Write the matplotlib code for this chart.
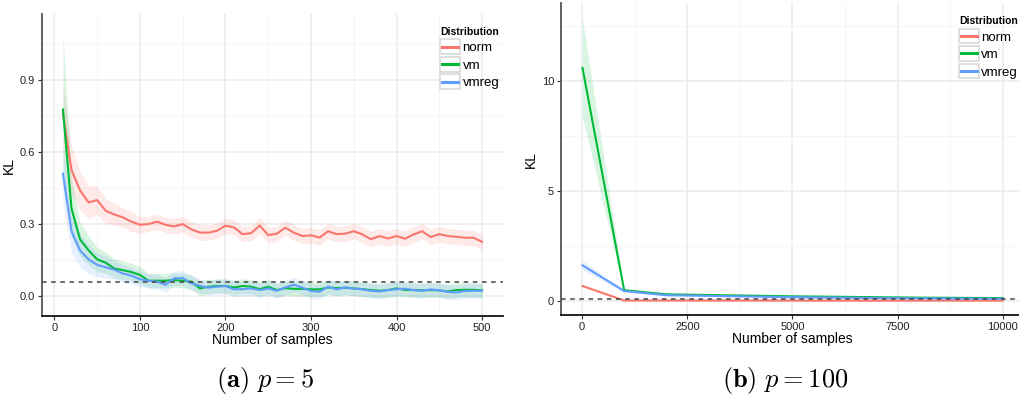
import numpy as np
import matplotlib
matplotlib.use("Agg")
import matplotlib.pyplot as plt
from matplotlib.legend_handler import HandlerBase
from matplotlib.patches import Rectangle
from matplotlib.lines import Line2D

plt.rcParams['mathtext.fontset'] = 'cm'
plt.rcParams['font.family'] = ['Liberation Sans', 'DejaVu Sans']

names = ['norm', 'vm', 'vmreg']
colors = {'norm': '#F8766D', 'vm': '#00BA38', 'vmreg': '#619CFF'}

# ---- p = 5 ----
n_a = list(range(10, 501, 10))
kl_a = {
    'norm': [0.76, 0.525, 0.44, 0.39, 0.40, 0.355, 0.34, 0.328, 0.31, 0.297,
             0.30, 0.31, 0.297, 0.29, 0.30, 0.278, 0.265, 0.264, 0.272, 0.293,
             0.286, 0.258, 0.262, 0.294, 0.254, 0.26, 0.285, 0.264, 0.25, 0.253,
             0.244, 0.27, 0.258, 0.26, 0.27, 0.257, 0.237, 0.25, 0.24, 0.25,
             0.239, 0.257, 0.27, 0.246, 0.258, 0.25, 0.247, 0.243, 0.243, 0.226],
    'vm': [0.777, 0.365, 0.236, 0.19, 0.153, 0.139, 0.115, 0.108, 0.10, 0.088,
           0.064, 0.064, 0.064, 0.067, 0.064, 0.06, 0.032, 0.039, 0.042, 0.042,
           0.036, 0.042, 0.039, 0.029, 0.039, 0.025, 0.033, 0.03, 0.03, 0.028,
           0.028, 0.036, 0.033, 0.035, 0.032, 0.029, 0.025, 0.022, 0.025, 0.032,
           0.026, 0.025, 0.024, 0.025, 0.024, 0.019, 0.025, 0.026, 0.026, 0.024],
    'vmreg': [0.51, 0.27, 0.19, 0.153, 0.13, 0.12, 0.11, 0.094, 0.085, 0.07,
              0.064, 0.06, 0.047, 0.074, 0.075, 0.053, 0.043, 0.035, 0.039, 0.042,
              0.028, 0.029, 0.032, 0.025, 0.032, 0.022, 0.036, 0.047, 0.035, 0.021,
              0.018, 0.039, 0.028, 0.036, 0.031, 0.028, 0.022, 0.019, 0.025, 0.028,
              0.031, 0.025, 0.022, 0.028, 0.024, 0.017, 0.015, 0.021, 0.022, 0.022],
}
# ribbon half widths
band_a = {
    'norm': [0.12, 0.10, 0.08, 0.07, 0.06, 0.05, 0.045, 0.04, 0.04, 0.035] + [0.032] * 40,
    'vm': [0.32, 0.12, 0.07, 0.06, 0.05, 0.045, 0.04, 0.04, 0.035, 0.035] + [0.03] * 40,
    'vmreg': [0.12, 0.09, 0.07, 0.06, 0.05, 0.045, 0.04, 0.035, 0.035, 0.03] + [0.03] * 40,
}
ref_a = 0.06

# ---- p = 100 ----
n_b = [10, 1000, 2000, 3000, 4000, 5000, 6000, 7000, 8000, 9000, 10000]
kl_b = {
    'norm': [0.68, 0.02, 0.02, 0.02, 0.02, 0.015, 0.015, 0.015, 0.015, 0.015, 0.015],
    'vm': [10.6, 0.49, 0.30, 0.27, 0.24, 0.21, 0.19, 0.17, 0.15, 0.14, 0.13],
    'vmreg': [1.62, 0.45, 0.26, 0.23, 0.20, 0.17, 0.15, 0.13, 0.12, 0.11, 0.10],
}
band_b = {
    'norm': [0.06, 0.02, 0.02, 0.02, 0.02, 0.02, 0.02, 0.02, 0.02, 0.02, 0.02],
    'vm': [2.25, 0.05, 0.03, 0.03, 0.03, 0.03, 0.03, 0.03, 0.03, 0.03, 0.03],
    'vmreg': [0.22, 0.05, 0.03, 0.03, 0.03, 0.03, 0.03, 0.03, 0.03, 0.03, 0.03],
}
ref_b = 0.1


class KeyHandler(HandlerBase):
    def create_artists(self, legend, orig_handle, xdescent, ydescent,
                       width, height, fontsize, trans):
        box = Rectangle((-xdescent, -ydescent - 2), width, height + 4,
                        facecolor='white', edgecolor='#d9d9d9', lw=1.2,
                        transform=trans)
        ln = Line2D([-xdescent + 1.5, -xdescent + width - 1.5],
                    [height / 2 - ydescent] * 2, color=orig_handle.get_color(),
                    lw=2.2, transform=trans)
        return [box, ln]


def style(ax, xmajor, xminor, ymajor, yminor):
    ax.set_xticks(xmajor)
    ax.set_xticks(xminor, minor=True)
    ax.set_yticks(ymajor)
    ax.set_yticks(yminor, minor=True)
    ax.grid(which='major', color='#ebebeb', lw=1.1, zorder=0)
    ax.grid(which='minor', color='#f5f5f5', lw=0.8, zorder=0)
    ax.set_axisbelow(True)
    for s in ['top', 'right']:
        ax.spines[s].set_visible(False)
    ax.spines['left'].set_color('#555555')
    ax.spines['left'].set_linewidth(1.3)
    ax.spines['bottom'].set_color('#111111')
    ax.spines['bottom'].set_linewidth(1.3)
    ax.tick_params(which='major', length=3, width=0.8, color='#333333',
                   labelsize=8, labelcolor='#222222', pad=2)
    ax.tick_params(which='minor', length=0)
    ax.set_xlabel('Number of samples', fontsize=10, labelpad=0)
    ax.set_ylabel('KL', fontsize=10, labelpad=3)


def panel(ax, n, kl, band, ref, loc):
    handles = []
    for nm in names:
        v = np.array(kl[nm])
        b = np.array(band[nm])
        ax.fill_between(n, v - b, v + b, color=colors[nm], alpha=0.15, lw=0)
        h, = ax.plot(n, v, color=colors[nm], lw=1.5, label=nm)
        handles.append(h)
    ax.axhline(ref, color='#444444', lw=1.1, ls=(0, (3, 3)))
    leg = ax.legend(handles=handles, loc='upper left', bbox_to_anchor=loc,
                    frameon=False, title='Distribution', fontsize=9.5,
                    title_fontproperties={'weight': 'bold', 'size': 7.5},
                    handler_map={Line2D: KeyHandler()}, handlelength=1.5,
                    handletextpad=0.2, labelspacing=0.4, borderaxespad=0)
    leg._legend_box.align = 'left'


fig = plt.figure(figsize=(10.19, 4.07), dpi=100)

ax1 = fig.add_axes([42 / 1019, 91 / 407, 461 / 1019, 302 / 407])
panel(ax1, n_a, kl_a, band_a, ref_a, (0.852, 0.975))
ax1.set_xlim(-14.5, 524.5)
ax1.set_ylim(-0.083, 1.175)
style(ax1, [0, 100, 200, 300, 400, 500], [50, 150, 250, 350, 450],
      [0.0, 0.3, 0.6, 0.9], [0.15, 0.45, 0.75, 1.05])

ax2 = fig.add_axes([561 / 1019, 92 / 407, 463 / 1019, 312 / 407])
panel(ax2, n_b, kl_b, band_b, ref_b, (0.848, 0.975))
ax2.set_xlim(-500, 10500)
ax2.set_ylim(-0.64, 13.55)
style(ax2, [0, 2500, 5000, 7500, 10000], [1250, 3750, 6250, 8750],
      [0, 5, 10], [2.5, 7.5, 12.5])

fig.text(265 / 1019, 1 - 380 / 407, r'$\mathbf{(a)}\ p = 5$', fontsize=19,
         ha='center', va='center')
fig.text(785 / 1019, 1 - 380 / 407, r'$\mathbf{(b)}\ p = 100$', fontsize=19,
         ha='center', va='center')

fig.savefig('out.png', dpi=100)
